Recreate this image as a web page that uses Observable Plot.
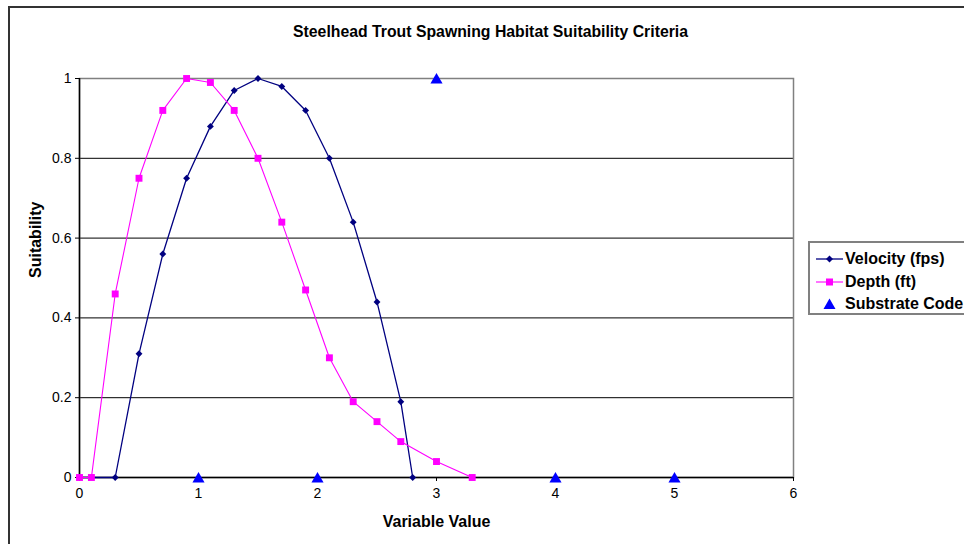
<!DOCTYPE html>
<html>
<head>
<meta charset="utf-8">
<script src="https://cdn.jsdelivr.net/npm/d3@7"></script>
<script src="https://cdn.jsdelivr.net/npm/@observablehq/plot@0.6"></script>
<style>
  html, body { margin: 0; padding: 0; background: #fff; width: 964px; height: 544px; overflow: hidden; }
  #wrap { position: relative; width: 964px; height: 544px; font-family: Arial, "Liberation Sans", sans-serif; }
  #border { position: absolute; left: 8px; top: 6px; width: 1000px; height: 600px; border: 2px solid #333; box-sizing: border-box; pointer-events: none; }
  #legend { position: absolute; left: 808px; top: 241px; width: 200px; height: 74px; border: 2px solid #808080; box-sizing: border-box; background: #fff; }
  .item { position: absolute; left: 4px; height: 22px; display: flex; align-items: center; font-weight: bold; font-size: 16px; color: #000; white-space: nowrap; }
  .item svg { margin-right: 0px; }
</style>
</head>
<body>
<div id="wrap">
  <div id="chart"></div>
  <div id="border"></div>
  <div id="legend"></div>
</div>
<script>
// ---- data ----
const velocityX = [0, 0.3, 0.5, 0.7, 0.9, 1.1, 1.3, 1.5, 1.7, 1.9, 2.1, 2.3, 2.5, 2.7, 2.8];
const velocityY = [0, 0, 0.31, 0.56, 0.75, 0.88, 0.97, 1, 0.98, 0.92, 0.8, 0.64, 0.44, 0.19, 0];
const depthX = [0, 0.1, 0.3, 0.5, 0.7, 0.9, 1.1, 1.3, 1.5, 1.7, 1.9, 2.1, 2.3, 2.5, 2.7, 3.0, 3.3];
const depthY = [0, 0, 0.46, 0.75, 0.92, 1, 0.99, 0.92, 0.8, 0.64, 0.47, 0.3, 0.19, 0.14, 0.09, 0.04, 0];
const substrateX = [1, 2, 3, 4, 5];
const substrateY = [0, 0, 1, 0, 0];
const seriesNames = ["Velocity (fps)", "Depth (ft)", "Substrate Code"];
const seriesColors = ["#000080", "#FF00FF", "#0000FF"];
const xTicks = [0, 1, 2, 3, 4, 5, 6];
const yTicks = [0, 0.2, 0.4, 0.6, 0.8, 1];
const gridValues = [0.2, 0.4, 0.6, 0.8];
const titleText = "Steelhead Trout Spawning Habitat Suitability Criteria";
const xTitle = "Variable Value";
const yTitle = "Suitability";

const velocity = velocityX.map((x, i) => ({x, y: velocityY[i]}));
const depth = depthX.map((x, i) => ({x, y: depthY[i]}));
const substrate = substrateX.map((x, i) => ({x, y: substrateY[i]}));

const chart = Plot.plot({
  width: 964,
  height: 544,
  marginLeft: 79,
  marginRight: 171,
  marginTop: 78,
  marginBottom: 67,
  style: {fontFamily: 'Arial, "Liberation Sans", sans-serif', fontSize: "14px", color: "#000", background: "transparent"},
  x: {domain: [0, 6]},
  y: {domain: [0, 1]},
  marks: [
    Plot.ruleY(gridValues, {stroke: "#000", strokeWidth: 1}),
    Plot.frame({stroke: "#808080", strokeWidth: 1.5}),
    Plot.ruleX([0], {stroke: "#000", strokeWidth: 1.5}),
    Plot.ruleY([0], {stroke: "#000", strokeWidth: 1.5}),
    Plot.axisX({ticks: xTicks, tickSize: 4, tickPadding: 7, tickFormat: d => String(d), label: null, fontSize: 14}),
    Plot.axisY({ticks: yTicks, tickSize: 4, tickPadding: 4, tickFormat: d => String(d), label: null, fontSize: 14}),
    Plot.line(velocity, {x: "x", y: "y", stroke: seriesColors[0], strokeWidth: 1.3}),
    Plot.dot(velocity, {x: "x", y: "y", symbol: "diamond2", r: 3.1, fill: seriesColors[0], stroke: "none"}),
    Plot.line(depth, {x: "x", y: "y", stroke: seriesColors[1], strokeWidth: 1.1}),
    Plot.dot(depth, {x: "x", y: "y", symbol: "square", r: 3.9, fill: seriesColors[1], stroke: "none"}),
    Plot.dot(substrate, {x: "x", y: "y", symbol: "triangle", r: 4.5, dy: 1.5, fill: seriesColors[2], stroke: "none"}),
    Plot.text([titleText], {frameAnchor: "top", text: d => d, dx: 54, dy: -47, lineAnchor: "middle", fontWeight: "bold", fontSize: 15.8}),
    Plot.text([xTitle], {frameAnchor: "bottom", text: d => d, dy: 44, lineAnchor: "middle", fontWeight: "bold", fontSize: 16}),
    Plot.text([yTitle], {frameAnchor: "left", text: d => d, dx: -44, rotate: -90, lineAnchor: "middle", fontWeight: "bold", fontSize: 16})
  ]
});
document.getElementById("chart").appendChild(chart);

// legend
const legend = document.getElementById("legend");
const symbols = [
  '<line x1="2" y1="8" x2="29" y2="8" stroke="#000080" stroke-width="1.3"/><path d="M15.5,4.5 L19,8 L15.5,11.5 L12,8 Z" fill="#000080"/>',
  '<line x1="2" y1="8" x2="29" y2="8" stroke="#FF00FF" stroke-width="1.1"/><rect x="12" y="4.5" width="7" height="7" fill="#FF00FF"/>',
  '<path d="M15.5,2.5 L21.5,13 L9.5,13 Z" fill="#0000FF"/>'
];
seriesNames.forEach((name, i) => {
  const el = document.createElement("div");
  el.className = "item";
  el.style.top = (5 + i * 22.5) + "px";
  el.innerHTML = '<svg width="31" height="16">' + symbols[i] + '</svg><span>' + name + '</span>';
  legend.appendChild(el);
});
</script>
</body>
</html>
